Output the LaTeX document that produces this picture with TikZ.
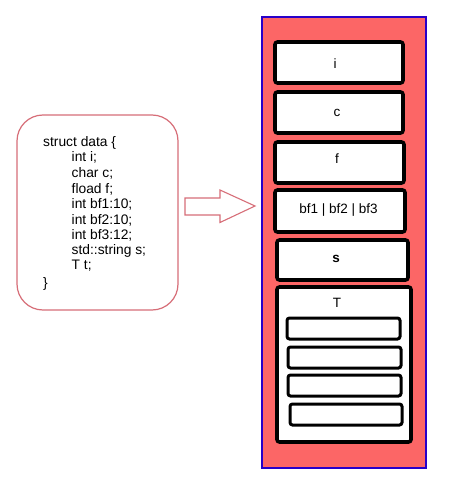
\documentclass[tikz,border=0pt]{standalone}
\usepackage{fontspec}
\setmainfont{Liberation Sans}
\definecolor{salmon}{RGB}{252,102,102}
\definecolor{frameblue}{RGB}{40,0,200}
\definecolor{pinkline}{RGB}{215,110,120}
\tikzset{
  fieldbox/.style={draw=black, line width=3.6pt, fill=white, rounded corners=2.5pt},
  subbox/.style={draw=black, line width=3pt, fill=white, rounded corners=2.5pt},
  lbl/.style={font=\fontsize{13.5}{15}\selectfont, inner sep=0pt},
  code/.style={font=\fontsize{13.8}{15.4}\selectfont, anchor=mid west, inner sep=0pt}
}
\begin{document}
\begin{tikzpicture}[x=1pt,y=-1pt]
\useasboundingbox[fill=white] (0,0) rectangle (450,484);
% left struct box
\draw[pinkline, line width=1.2pt, rounded corners=26pt, fill=white] (17,115) rectangle (178,310);
\node[code] (c0) at (43,144) {struct data \{};
\node[code] (c1) at (71.5,159.3) {int i;};
\node[code] (c2) at (71.5,175) {char c;};
\node[code] (c3) at (71.5,190.5) {fload f;};
\node[code] (c4) at (71.5,206) {int bf1:10;};
\node[code] (c5) at (71.5,221.5) {int bf2:10;};
\node[code] (c6) at (71.5,236.7) {int bf3:12;};
\node[code] (c7) at (71.5,252.2) {std::string s;};
\node[code] (c8) at (71.5,267.3) {T t;};
\node[code] (c9) at (43,285) {\}};
% block arrow
\draw[pinkline, line width=1.1pt, fill=white] (185,198) -- (220,198) -- (220,190) -- (255,206) -- (220,222.5) -- (220,215) -- (185,215) -- cycle;
% memory frame
\draw[frameblue, line width=1.5pt, fill=salmon] (262,17) rectangle (426,468);
\draw[fieldbox] (275,42) rectangle (403,83);
\node[lbl] (ni) at (335,64) {i};
\draw[fieldbox] (275,92) rectangle (403,133);
\node[lbl] (nc) at (337,113) {c};
\draw[fieldbox] (275,142) rectangle (404,183);
\node[lbl] (nf) at (337,159) {f};
\draw[fieldbox] (275,190) rectangle (405,232);
\node[lbl] (nbf) at (338.5,210) {bf1 | bf2 | bf3};
\draw[fieldbox] (277,240) rectangle (408,280);
\node[lbl, font=\bfseries\fontsize{13.5}{15}\selectfont] (ns) at (336,258.5) {s};
\draw[fieldbox] (277,287) rectangle (411,442);
\node[lbl] (nT) at (337,303) {T};
\draw[subbox] (287,318) rectangle (400,339);
\draw[subbox] (288,347) rectangle (401,368);
\draw[subbox] (288,375) rectangle (401,396);
\draw[subbox] (290,404) rectangle (402,425);
\end{tikzpicture}
\end{document}
